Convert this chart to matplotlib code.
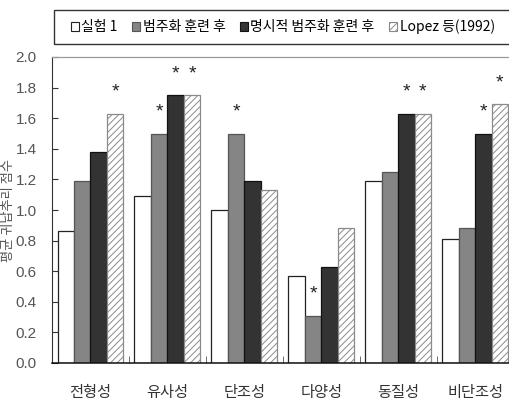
import matplotlib as mpl

mpl.use("Agg")
import matplotlib.pyplot as plt
import numpy as np
from matplotlib.patches import Patch, Rectangle

KR = ["Noto Sans CJK KR", "DejaVu Sans"]
NUM = ["Liberation Sans Narrow", "Liberation Sans", "DejaVu Sans"]

categories = ["전형성", "유사성", "단조성", "다양성", "동질성", "비단조성"]
series = ["실험 1", "범주화 훈련 후", "명시적 범주화 훈련 후", "Lopez 등(1992)"]
exp1 = [0.86, 1.09, 1.00, 0.57, 1.19, 0.81]
trained = [1.19, 1.50, 1.50, 0.31, 1.25, 0.88]
explicit = [1.38, 1.75, 1.19, 0.63, 1.63, 1.50]
lopez = [1.63, 1.75, 1.13, 0.88, 1.63, 1.69]
# significance marks: (category index, series index)
starred = [(0, 3), (1, 1), (1, 2), (1, 3), (2, 1), (3, 1),
           (4, 2), (4, 3), (5, 2), (5, 3)]
yticks = [0.0, 0.2, 0.4, 0.6, 0.8, 1.0, 1.2, 1.4, 1.6, 1.8, 2.0]

styles = [
    dict(facecolor="white", edgecolor="#222222"),
    dict(facecolor="#858585", edgecolor="#555555"),
    dict(facecolor="#333333", edgecolor="#111111"),
    dict(facecolor="white", edgecolor="#8a8a8a", hatch="/////"),
]
mpl.rcParams["hatch.linewidth"] = 0.7

fig = plt.figure(figsize=(5.09, 4.03), dpi=100)
ax = fig.add_axes([52 / 509, 40 / 403, 461.5 / 509, 306 / 403])

x = np.arange(len(categories))
w = 0.214
values = [exp1, trained, explicit, lopez]
for i, (vals, st) in enumerate(zip(values, styles)):
    ax.bar(x + (i - 1.5) * w, vals, width=w, linewidth=0.9, **st)

for ci, si in starred:
    ax.text(x[ci] + (si - 1.5) * w, values[si][ci] + 0.14, "*",
            ha="center", va="center", fontsize=14, color="#222222",
            family=NUM)

ax.set_xlim(-0.5, 5.5)
ax.set_ylim(0, 2.0)
ax.set_yticks(yticks)
ax.set_yticklabels([f"{v:.1f}" for v in yticks], family=NUM,
                   fontsize=11, color="#555555")
ax.tick_params(axis="y", direction="in", length=4, pad=11,
               color="#333333")
ax.set_xticks(x)
ax.set_xticklabels(categories, family=KR, fontsize=11, color="#333333")
ax.tick_params(axis="x", length=0, pad=15)
ax.set_xticks(x[:-1] + 0.5, minor=True)
ax.tick_params(axis="x", which="minor", direction="in", length=5,
               color="#555555")

ax.spines["right"].set_visible(False)
ax.spines["top"].set_color("#999999")
ax.spines["top"].set_linewidth(0.9)
ax.spines["left"].set_color("#333333")
ax.spines["bottom"].set_color("#111111")
ax.spines["bottom"].set_linewidth(1.1)

fig.text(9 / 509, 1 - 210 / 403, "평균 귀납추리 점수", rotation=90,
         ha="center", va="center", fontsize=9.5, color="#555555",
         family=KR)

handles = [Patch(linewidth=0.8, **st) for st in styles]
fig.legend(handles, series, loc="center left",
           bbox_to_anchor=(64 / 509, 1 - 27 / 403), ncol=4,
           frameon=False, borderpad=0, handlelength=0.55,
           handleheight=0.55, handletextpad=0.2, columnspacing=1.05,
           prop={"family": KR, "size": 10})
fig.add_artist(Rectangle((54 / 509, 1 - 44 / 403), 470 / 509, 34 / 403,
                         transform=fig.transFigure, fill=False,
                         edgecolor="#333333", linewidth=1.0,
                         clip_on=False))

fig.savefig("out.png", dpi=100)
